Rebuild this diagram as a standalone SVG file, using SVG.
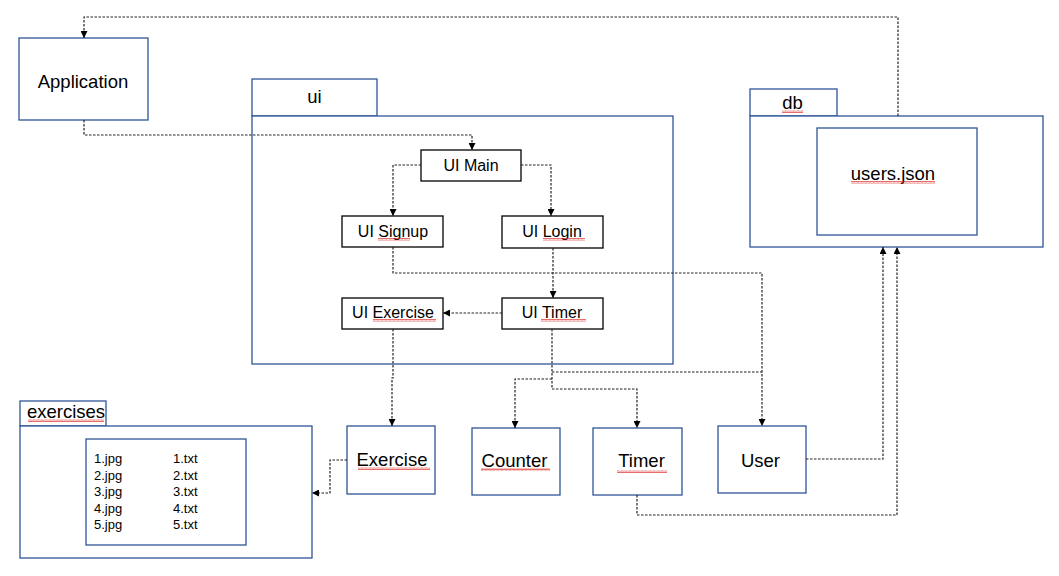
<svg xmlns="http://www.w3.org/2000/svg" width="1059" height="576" viewBox="0 0 1059 576">
<style>
.bg{fill:#ffffff}
.pkg{fill:#ffffff;stroke:#2f5597;stroke-width:1.3}
.ui{fill:#ffffff;stroke:#000000;stroke-width:1.3}
.t{font-family:"Liberation Sans",Arial,sans-serif;fill:#000000;text-anchor:middle}
.big{font-size:18.5px}
.mid{font-size:16px}
.sm{font-size:13px;text-anchor:start}
.c{fill:none;stroke:#222222;stroke-width:1.2;stroke-dasharray:2.5 1.5}
.sq{fill:url(#squig)}
</style>
<defs>
<marker id="ah" viewBox="0 0 10 10" refX="10" refY="5" markerWidth="7" markerHeight="7" markerUnits="userSpaceOnUse" orient="auto">
<path d="M0,0 L10,5 L0,10 Z" fill="#000000"/>
</marker>
<pattern id="squig" width="4" height="3" patternUnits="userSpaceOnUse">
<polyline points="0,2.5 1,0.5 2,2.5 3,0.5 4,2.5" fill="none" stroke="#e0302a" stroke-width="0.7"/>
</pattern>
</defs>
<rect class="bg" x="0" y="0" width="1059" height="576"/>

<g id="ui-package">
<rect class="pkg" x="252" y="79" width="125" height="37"/>
<rect class="pkg" x="252" y="116" width="421" height="248"/>
<text class="t big" x="314.5" y="103">ui</text>
</g>

<g id="db-package">
<rect class="pkg" x="750" y="89" width="87" height="27"/>
<rect class="pkg" x="750" y="116" width="293" height="131"/>
<text class="t big" x="792.5" y="109">db</text>
<rect class="sq" x="782" y="110" width="21" height="3"/>
</g>

<g id="users-json">
<rect class="pkg" x="817" y="128" width="160" height="107"/>
<text class="t big" x="893" y="180">users.json</text>
<rect class="sq" x="851" y="181" width="84" height="3"/>
</g>

<g id="exercises-package">
<rect class="pkg" x="20" y="401" width="86" height="25"/>
<rect class="pkg" x="20" y="426" width="292" height="132"/>
<text class="t big" x="66" y="418">exercises</text>
<rect class="sq" x="28" y="419" width="76" height="3"/>
</g>

<g id="exercise-files">
<rect class="pkg" x="86" y="439" width="160" height="106"/>
<text class="t sm" x="94" y="463">1.jpg</text>
<text class="t sm" x="94" y="479.6">2.jpg</text>
<text class="t sm" x="94" y="496.2">3.jpg</text>
<text class="t sm" x="94" y="512.8">4.jpg</text>
<text class="t sm" x="94" y="529.4">5.jpg</text>
<text class="t sm" x="173" y="463">1.txt</text>
<text class="t sm" x="173" y="479.6">2.txt</text>
<text class="t sm" x="173" y="496.2">3.txt</text>
<text class="t sm" x="173" y="512.8">4.txt</text>
<text class="t sm" x="173" y="529.4">5.txt</text>
</g>

<g id="application">
<rect class="pkg" x="19" y="38" width="129" height="82"/>
<text class="t big" x="83" y="88">Application</text>
</g>

<g id="ui-main">
<rect class="ui" x="421" y="150" width="100" height="31"/>
<text class="t mid" x="471" y="171">UI Main</text>
</g>

<g id="ui-signup">
<rect class="ui" x="342" y="216" width="101" height="31"/>
<text class="t mid" x="393" y="237">UI Signup</text>
<rect class="sq" x="378" y="238" width="32" height="3"/>
</g>

<g id="ui-login">
<rect class="ui" x="502" y="216" width="101" height="32"/>
<text class="t mid" x="552" y="237">UI Login</text>
<rect class="sq" x="543" y="238" width="42" height="3"/>
</g>

<g id="ui-exercise">
<rect class="ui" x="342" y="298" width="101" height="31"/>
<text class="t mid" x="393" y="318">UI Exercise</text>
<rect class="sq" x="373" y="319" width="63" height="3"/>
</g>

<g id="ui-timer">
<rect class="ui" x="502" y="298" width="101" height="31"/>
<text class="t mid" x="552" y="318">UI Timer</text>
<rect class="sq" x="541" y="319" width="45" height="3"/>
</g>

<g id="exercise">
<rect class="pkg" x="347" y="426" width="88" height="68"/>
<text class="t big" x="392" y="466">Exercise</text>
<rect class="sq" x="358" y="467" width="72" height="3"/>
</g>

<g id="counter">
<rect class="pkg" x="472" y="428" width="88" height="67"/>
<text class="t big" x="514.5" y="467">Counter</text>
<rect class="sq" x="481" y="468" width="69" height="3"/>
</g>

<g id="timer">
<rect class="pkg" x="593" y="428" width="89" height="67"/>
<text class="t big" x="641.5" y="467">Timer</text>
<rect class="sq" x="617" y="470" width="50" height="3"/>
</g>

<g id="user">
<rect class="pkg" x="718" y="426" width="88" height="67"/>
<text class="t big" x="760.5" y="467">User</text>
</g>

<g id="connectors">
<path class="c" d="M898,116 V17 H84 V38" marker-end="url(#ah)"/>
<path class="c" d="M84,120 V135 H472 V150" marker-end="url(#ah)"/>
<path class="c" d="M421,165 H393 V216" marker-end="url(#ah)"/>
<path class="c" d="M521,165 H551 V216" marker-end="url(#ah)"/>
<path class="c" d="M393,247 V273 H762 V426" marker-end="url(#ah)"/>
<path class="c" d="M553,248 V298" marker-end="url(#ah)"/>
<path class="c" d="M502,313 H443" marker-end="url(#ah)"/>
<path class="c" d="M393,329 V378 H392 V426" marker-end="url(#ah)"/>
<path class="c" d="M552,329 V389 H637 V428" marker-end="url(#ah)"/>
<path class="c" d="M552,379 H515 V428" marker-end="url(#ah)"/>
<path class="c" d="M552,372 H762"/>
<path class="c" d="M347,460 H330 V493 H312" marker-end="url(#ah)"/>
<path class="c" d="M806,459 H883 V247" marker-end="url(#ah)"/>
<path class="c" d="M637,495 V515 H897 V247" marker-end="url(#ah)"/>
</g>
</svg>
